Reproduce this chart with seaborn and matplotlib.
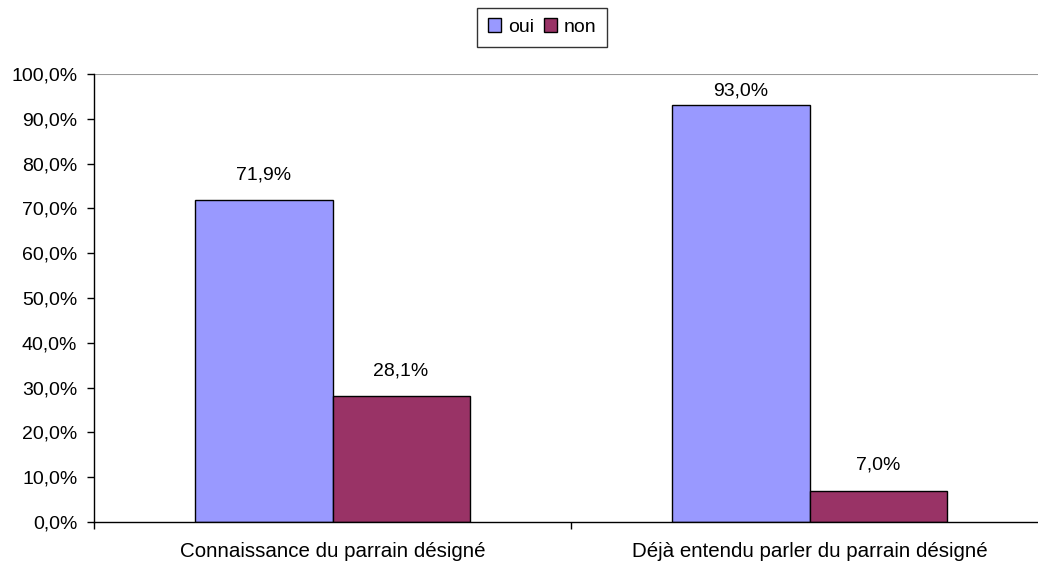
import matplotlib
matplotlib.use("Agg")
import matplotlib.pyplot as plt
import seaborn as sns
import pandas as pd
from matplotlib.ticker import FixedLocator, FuncFormatter

categories = ["Connaissance du parrain désigné", "Déjà entendu parler du parrain désigné"]
series = ["oui", "non"]
oui_values = [71.9, 93.0]
non_values = [28.1, 7.0]
colors = ["#9999FF", "#993366"]

df = pd.DataFrame({
    "categorie": categories * 2,
    "reponse": ["oui"] * len(categories) + ["non"] * len(categories),
    "valeur": oui_values + non_values,
})

sns.set_style("white")
plt.rcParams["font.family"] = ["Liberation Sans", "DejaVu Sans"]
plt.rcParams["text.color"] = "black"
plt.rcParams["xtick.color"] = "black"
plt.rcParams["ytick.color"] = "black"
plt.rcParams["axes.labelcolor"] = "black"

DPI = 100
fig = plt.figure(figsize=(10.38, 5.65), dpi=DPI)
ax = fig.add_axes([94 / 1038, 1 - 522 / 565, (1048 - 94) / 1038, (522 - 74) / 565])

sns.barplot(data=df, x="categorie", y="valeur", hue="reponse", hue_order=series,
            palette=colors, width=0.575, edgecolor="black", linewidth=1.0,
            saturation=1, ax=ax, legend=True)

ax.set_ylim(0, 100)
ax.set_xlim(-0.5, 1.5)
ax.set_xlabel("")
ax.set_ylabel("")


def pct(v):
    return f"{v:.1f}".replace(".", ",") + "%"


# value labels above each bar, kept inside the plot area
axes_h_px = ax.get_position().height * fig.get_figheight() * DPI
label_h_px = 26
for container in ax.containers:
    for bar, v in zip(container.patches, container.datavalues):
        room_px = (100 - v) / 100 * axes_h_px - label_h_px
        pad_pt = max(0, min(12, room_px * 72 / DPI))
        ax.annotate(pct(v), xy=(bar.get_x() + bar.get_width() / 2, v),
                    xytext=(0, pad_pt), textcoords="offset points",
                    ha="center", va="bottom", fontsize=14, color="black")

# y axis
ax.yaxis.set_major_locator(FixedLocator(range(0, 101, 10)))
ax.yaxis.set_major_formatter(FuncFormatter(lambda v, p: pct(v)))
ax.tick_params(axis="y", direction="out", length=5, width=1, color="black",
               labelcolor="black", labelsize=14, left=True, pad=7)

# x axis: ticks at category boundaries, labels at centers
ax.xaxis.set_major_locator(FixedLocator([-0.5, 0.5, 1.5]))
ax.xaxis.set_major_formatter(FuncFormatter(lambda v, p: ""))
ax.set_xticks([0, 1], labels=categories, minor=True)
ax.tick_params(axis="x", which="major", direction="out", length=5, width=1,
               color="black", bottom=True)
ax.tick_params(axis="x", which="minor", length=0, labelsize=14.8,
               labelcolor="black", pad=14.5)

for side in ["top", "right"]:
    ax.spines[side].set_visible(False)
for side in ["left", "bottom"]:
    ax.spines[side].set_color("black")
    ax.spines[side].set_linewidth(1.0)

ax.axhline(100, color="#999999", linewidth=1.5, zorder=0.5)

handles, labels = ax.get_legend_handles_labels()
ax.legend(handles, labels, loc="center", bbox_to_anchor=(542 / 1038, 1 - 27 / 565),
          bbox_transform=fig.transFigure, ncol=2, frameon=True, fancybox=False,
          edgecolor="black", fontsize=14, handlelength=0.67, handleheight=0.7,
          handletextpad=0.35, columnspacing=0.5, borderpad=0.55, borderaxespad=0)
leg = ax.get_legend()
leg.get_frame().set_linewidth(1.0)
for t in leg.get_texts():
    t.set_color("black")

fig.savefig("out.png", dpi=DPI, facecolor="white")
